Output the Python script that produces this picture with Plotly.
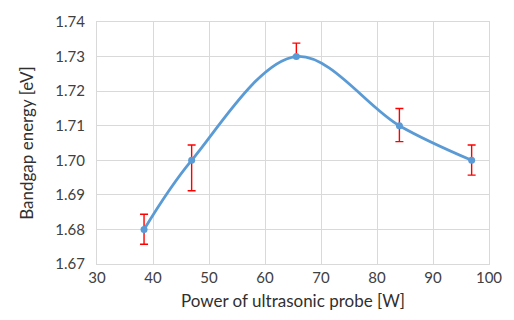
import plotly.graph_objects as go

power_w = [38.4, 46.9, 65.6, 84.0, 96.9]
bandgap_ev = [1.680, 1.700, 1.730, 1.710, 1.700]
err_plus = [0.0044, 0.0044, 0.0039, 0.0050, 0.0044]
err_minus = [0.0043, 0.0088, 0.0, 0.0046, 0.0043]

x_ticks = [30, 40, 50, 60, 70, 80, 90, 100]
y_ticks = [1.67, 1.68, 1.69, 1.70, 1.71, 1.72, 1.73, 1.74]

blue = "#5B9BD5"
font_family = "Lato, 'Open Sans', sans-serif"

fig = go.Figure()
fig.add_trace(go.Scatter(
    x=power_w, y=bandgap_ev,
    mode="lines+markers",
    line=dict(color=blue, width=2.8, shape="spline", smoothing=1.0),
    marker=dict(color=blue, size=7),
    error_y=dict(type="data", array=err_plus, arrayminus=err_minus,
                 color="#FF0000", thickness=1.4, width=4, visible=True),
    showlegend=False,
    cliponaxis=False,
))

fig.update_layout(
    width=514, height=320,
    margin=dict(l=97, r=21, t=21, b=54),
    paper_bgcolor="white", plot_bgcolor="white",
    font=dict(family=font_family, color="#404040", size=15),
    xaxis=dict(
        range=[30, 100], tickvals=x_ticks, ticktext=[str(v) for v in x_ticks],
        showgrid=True, gridcolor="#D9D9D9", gridwidth=1,
        zeroline=False, showline=True, linecolor="#D9D9D9", linewidth=1,
        ticks="", tickfont=dict(size=15, color="#404040"),
        title=dict(text="Power of ultrasonic probe [W]", font=dict(size=17, color="#303030"), standoff=10),
        mirror=True,
    ),
    yaxis=dict(
        range=[1.67, 1.74], tickvals=y_ticks, ticktext=[f"{v:.2f}" for v in y_ticks],
        showgrid=True, gridcolor="#D9D9D9", gridwidth=1,
        zeroline=False, showline=True, linecolor="#D9D9D9", linewidth=1,
        ticks="", tickfont=dict(size=15, color="#404040"),
        ticklabelstandoff=8,
        title=dict(text="Bandgap energy [eV]", font=dict(size=17, color="#303030"), standoff=17),
        mirror=True,
    ),
)

fig.write_html("out.html")
